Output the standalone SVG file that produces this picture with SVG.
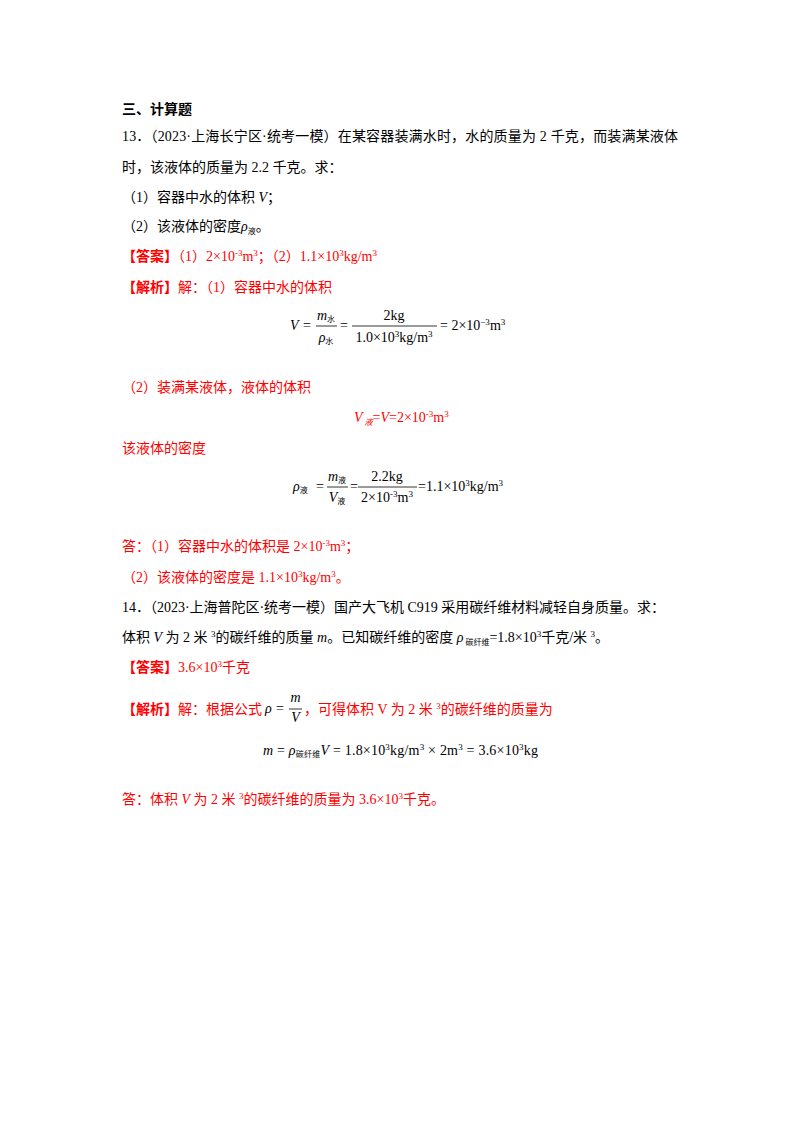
<svg xmlns="http://www.w3.org/2000/svg" width="800" height="1132" viewBox="0 0 800 1132">
<style>
text { font-family: 'Liberation Serif', 'Noto Sans CJK SC', serif; font-size: 14px; fill: #000; }
.r { fill: #ff0000; }
.b { font-weight: bold; }
.i { font-style: italic; }
.s { font-size: 9px; }
.sub { font-size: 8px; }
.bar { stroke: #000; stroke-width: 0.8; }
</style>
<rect width="800" height="1132" fill="#fff"/>

<g id="q13">
<text x="122" y="114" class="b">三、计算题</text>
<text x="122" y="141" textLength="556" lengthAdjust="spacing">13．（2023·上海长宁区·统考一模）在某容器装满水时，水的质量为 2 千克，而装满某液体</text>
<text x="122" y="172">时，该液体的质量为 2.2 千克。求：</text>
<text x="122" y="202">（1）容器中水的体积 <tspan class="i">V</tspan>；</text>
<text x="122" y="231">（2）该液体的密度<tspan class="i">ρ</tspan><tspan class="sub" dy="3">液</tspan><tspan dy="-3">。</tspan></text>
<text x="122" y="261" class="r"><tspan class="b">【答案】</tspan>（1）2×10<tspan class="s" dy="-5">-3</tspan><tspan dy="5">m</tspan><tspan class="s" dy="-5">3</tspan><tspan dy="5">；（2）1.1×10</tspan><tspan class="s" dy="-5">3</tspan><tspan dy="5">kg/m</tspan><tspan class="s" dy="-5">3</tspan></text>
<text x="122" y="292" class="r"><tspan class="b">【解析】</tspan>解：（1）容器中水的体积</text>
</g>

<g id="formula1">
<text x="290" y="330" class="i">V</text>
<text x="303" y="330">=</text>
<line class="bar" x1="316" y1="326" x2="337" y2="326"/>
<text x="326" y="320" text-anchor="middle"><tspan class="i">m</tspan><tspan class="sub" dy="2">水</tspan></text>
<text x="326" y="342" text-anchor="middle"><tspan class="i">ρ</tspan><tspan class="sub" dy="2">水</tspan></text>
<text x="340" y="330">=</text>
<line class="bar" x1="352" y1="326" x2="437" y2="326"/>
<text x="394" y="320" text-anchor="middle">2kg</text>
<text x="394" y="342" text-anchor="middle">1.0×10<tspan class="s" dy="-5">3</tspan><tspan dy="5">kg/m</tspan><tspan class="s" dy="-5">3</tspan></text>
<text x="440" y="330">= 2×10<tspan class="s" dy="-5">−3</tspan><tspan dy="5">m</tspan><tspan class="s" dy="-5">3</tspan></text>
</g>

<g id="part2">
<text x="122" y="392" class="r">（2）装满某液体，液体的体积</text>
<text x="354" y="422" class="r"><tspan class="i">V</tspan><tspan class="sub i" dy="3"> 液</tspan><tspan dy="-3">=</tspan><tspan class="i">V</tspan>=2×10<tspan class="s" dy="-5">-3</tspan><tspan dy="5">m</tspan><tspan class="s" dy="-5">3</tspan></text>
<text x="122" y="453" class="r">该液体的密度</text>
</g>

<g id="formula2">
<text x="293" y="491"><tspan class="i">ρ</tspan><tspan class="sub" dy="2">液</tspan></text>
<text x="316" y="491">=</text>
<line class="bar" x1="327" y1="487" x2="348" y2="487"/>
<text x="337" y="481" text-anchor="middle"><tspan class="i">m</tspan><tspan class="sub" dy="2">液</tspan></text>
<text x="337" y="502" text-anchor="middle"><tspan class="i">V</tspan><tspan class="sub" dy="2">液</tspan></text>
<text x="350" y="491">=</text>
<line class="bar" x1="358" y1="487" x2="417" y2="487"/>
<text x="387" y="481" text-anchor="middle">2.2kg</text>
<text x="387" y="502" text-anchor="middle">2×10<tspan class="s" dy="-5">-3</tspan><tspan dy="5">m</tspan><tspan class="s" dy="-5">3</tspan></text>
<text x="418" y="491">=1.1×10<tspan class="s" dy="-5">3</tspan><tspan dy="5">kg/m</tspan><tspan class="s" dy="-5">3</tspan></text>
</g>

<g id="answer13">
<text x="122" y="551" class="r">答：（1）容器中水的体积是 2×10<tspan class="s" dy="-5">-3</tspan><tspan dy="5">m</tspan><tspan class="s" dy="-5">3</tspan><tspan dy="5">；</tspan></text>
<text x="122" y="582" class="r">（2）该液体的密度是 1.1×10<tspan class="s" dy="-5">3</tspan><tspan dy="5">kg/m</tspan><tspan class="s" dy="-5">3</tspan><tspan dy="5">。</tspan></text>
</g>

<g id="q14">
<text x="122" y="612" textLength="543" lengthAdjust="spacing">14．（2023·上海普陀区·统考一模）国产大飞机 C919 采用碳纤维材料减轻自身质量。求：</text>
<text x="122" y="642">体积 <tspan class="i">V</tspan> 为 2 米 <tspan class="s" dy="-5">3</tspan><tspan dy="5">的碳纤维的质量 </tspan><tspan class="i">m</tspan>。已知碳纤维的密度 <tspan class="i">ρ</tspan><tspan class="sub" dy="3"> 碳纤维</tspan><tspan dy="-3">=1.8×10</tspan><tspan class="s" dy="-5">3</tspan><tspan dy="5">千克/米 </tspan><tspan class="s" dy="-5">3</tspan><tspan dy="5">。</tspan></text>
<text x="122" y="672" class="r"><tspan class="b">【答案】</tspan>3.6×10<tspan class="s" dy="-5">3</tspan><tspan dy="5">千克</tspan></text>
<text x="122" y="714" class="r"><tspan class="b">【解析】</tspan>解：根据公式</text>
<text x="265" y="713" class="i">ρ</text>
<text x="276" y="713" font-size="13">=</text>
<line class="bar" x1="289" y1="709" x2="302" y2="709"/>
<text x="295.5" y="702" text-anchor="middle" class="i" font-size="13">m</text>
<text x="295.5" y="722" text-anchor="middle" class="i" font-size="13">V</text>
<text x="304" y="714" class="r">，可得体积 V 为 2 米 <tspan class="s" dy="-5">3</tspan><tspan dy="5">的碳纤维的质量为</tspan></text>
</g>

<g id="formula3">
<text x="263" y="755" textLength="275" lengthAdjust="spacing"><tspan class="i">m</tspan> = <tspan class="i">ρ</tspan><tspan class="sub" dy="2">碳纤维</tspan><tspan class="i" dy="-2">V</tspan> = 1.8×10<tspan class="s" dy="-5">3</tspan><tspan dy="5">kg/m</tspan><tspan class="s" dy="-5">3</tspan><tspan dy="5"> × 2m</tspan><tspan class="s" dy="-5">3</tspan><tspan dy="5"> = 3.6×10</tspan><tspan class="s" dy="-5">3</tspan><tspan dy="5">kg</tspan></text>
</g>

<g id="answer14">
<text x="122" y="804" class="r">答：体积 <tspan class="i">V</tspan> 为 2 米 <tspan class="s" dy="-5">3</tspan><tspan dy="5">的碳纤维的质量为 3.6×10</tspan><tspan class="s" dy="-5">3</tspan><tspan dy="5">千克。</tspan></text>
</g>
</svg>
